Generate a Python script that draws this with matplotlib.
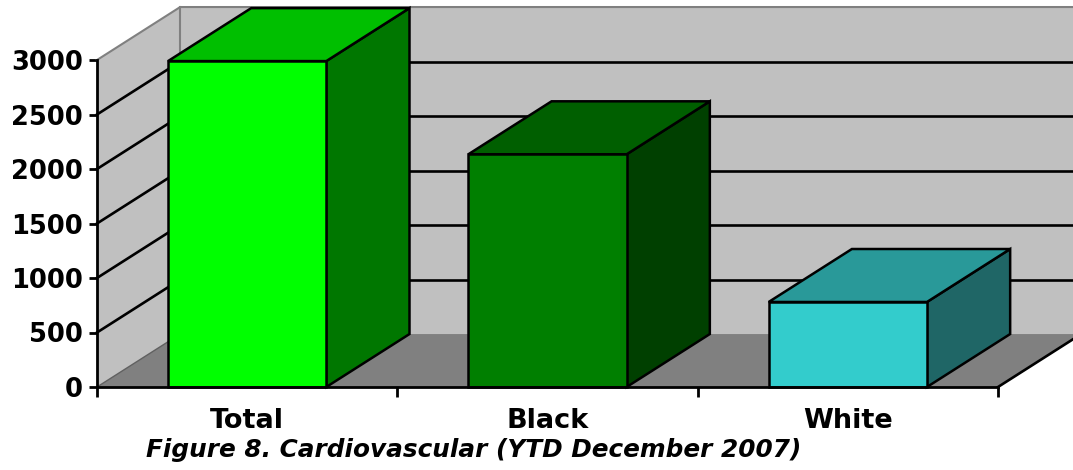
import matplotlib
matplotlib.use("Agg")
import matplotlib.pyplot as plt
from matplotlib.patches import Polygon

categories = ['Total', 'Black', 'White']
values = [2990, 2135, 780]
yticks = [0, 500, 1000, 1500, 2000, 2500, 3000]
caption = 'Figure 8. Cardiovascular (YTD December 2007)'

front_colors = ['#00FF00', '#007F00', '#33CCCC']
top_colors = ['#00BF00', '#005F00', '#299999']
side_colors = ['#007700', '#004000', '#1F6666']

# depth of the 3d box, in data units (categories / values)
DX = 0.277
DY = 486
BAR_W = 0.527
EDGE = 1.8

fig = plt.figure(figsize=(10.73, 4.70), dpi=100)
ax = fig.add_axes([97 / 1073, 83 / 470, 901 / 1073, 327 / 470])
ax.set_xlim(0, len(categories))
ax.set_ylim(0, max(yticks))

n = len(categories)
ytop = max(yticks)


def poly(pts, fc, ec='none', lw=0, z=1):
    ax.add_patch(Polygon(pts, closed=True, facecolor=fc, edgecolor=ec,
                         linewidth=lw, clip_on=False, zorder=z, joinstyle='miter'))


# walls and floor
poly([(DX, DY), (n + DX, DY), (n + DX, ytop + DY), (DX, ytop + DY)], '#C0C0C0', z=1)
poly([(0, 0), (DX, DY), (DX, ytop + DY), (0, ytop)], '#C0C0C0', z=1)
poly([(0, 0), (n, 0), (n + DX, DY), (DX, DY)], '#808080', z=1)

# grid lines on back and left walls
for v in yticks[1:-1]:
    ax.plot([DX, n + DX], [v + DY, v + DY], color='black', lw=1.9, clip_on=False, zorder=2)
    ax.plot([0, DX], [v, v + DY], color='black', lw=1.9, clip_on=False, zorder=2)
ax.plot([0, DX, n + DX], [ytop, ytop + DY, ytop + DY], color='#808080', lw=1.5, clip_on=False, zorder=2)
ax.plot([DX, DX], [DY, ytop + DY], color='#808080', lw=1.5, clip_on=False, zorder=2)
ax.plot([0, DX], [0, DY], color='#606060', lw=1, clip_on=False, zorder=2)
ax.plot([n, n + DX], [0, DY], color='black', lw=1.9, clip_on=False, zorder=2)

# bars
for i, v in enumerate(values):
    x0 = i + 0.5 - BAR_W / 2
    x1 = i + 0.5 + BAR_W / 2
    poly([(x1, 0), (x1 + DX, DY), (x1 + DX, v + DY), (x1, v)], side_colors[i], 'black', EDGE, z=3)
    poly([(x0, v), (x1, v), (x1 + DX, v + DY), (x0 + DX, v + DY)], top_colors[i], 'black', EDGE, z=3)
    poly([(x0, 0), (x1, 0), (x1, v), (x0, v)], front_colors[i], 'black', EDGE, z=4)

for s in ['top', 'right']:
    ax.spines[s].set_visible(False)
for s in ['left', 'bottom']:
    ax.spines[s].set_linewidth(2)
    ax.spines[s].set_zorder(5)
ax.set_facecolor('none')

ax.set_yticks(yticks)
ax.set_yticklabels([str(t) for t in yticks], fontsize=18.5, fontweight='heavy',
                   family='DejaVu Sans')
ax.tick_params(axis='y', length=6, width=2, pad=4)

ax.set_xticks(range(n + 1))
ax.set_xticklabels([])
ax.tick_params(axis='x', which='major', length=7, width=2)
ax.set_xticks([i + 0.5 for i in range(n)], minor=True)
ax.set_xticklabels(categories, minor=True, fontsize=19.5, fontweight='heavy',
                   family='DejaVu Sans')
ax.tick_params(axis='x', which='minor', length=0, pad=15)

fig.text(474 / 1073, 1 - 450 / 470, caption, ha='center', va='center',
         fontsize=17.8, fontweight='bold', style='italic', family='DejaVu Sans')

fig.savefig('out.png', dpi=100)
